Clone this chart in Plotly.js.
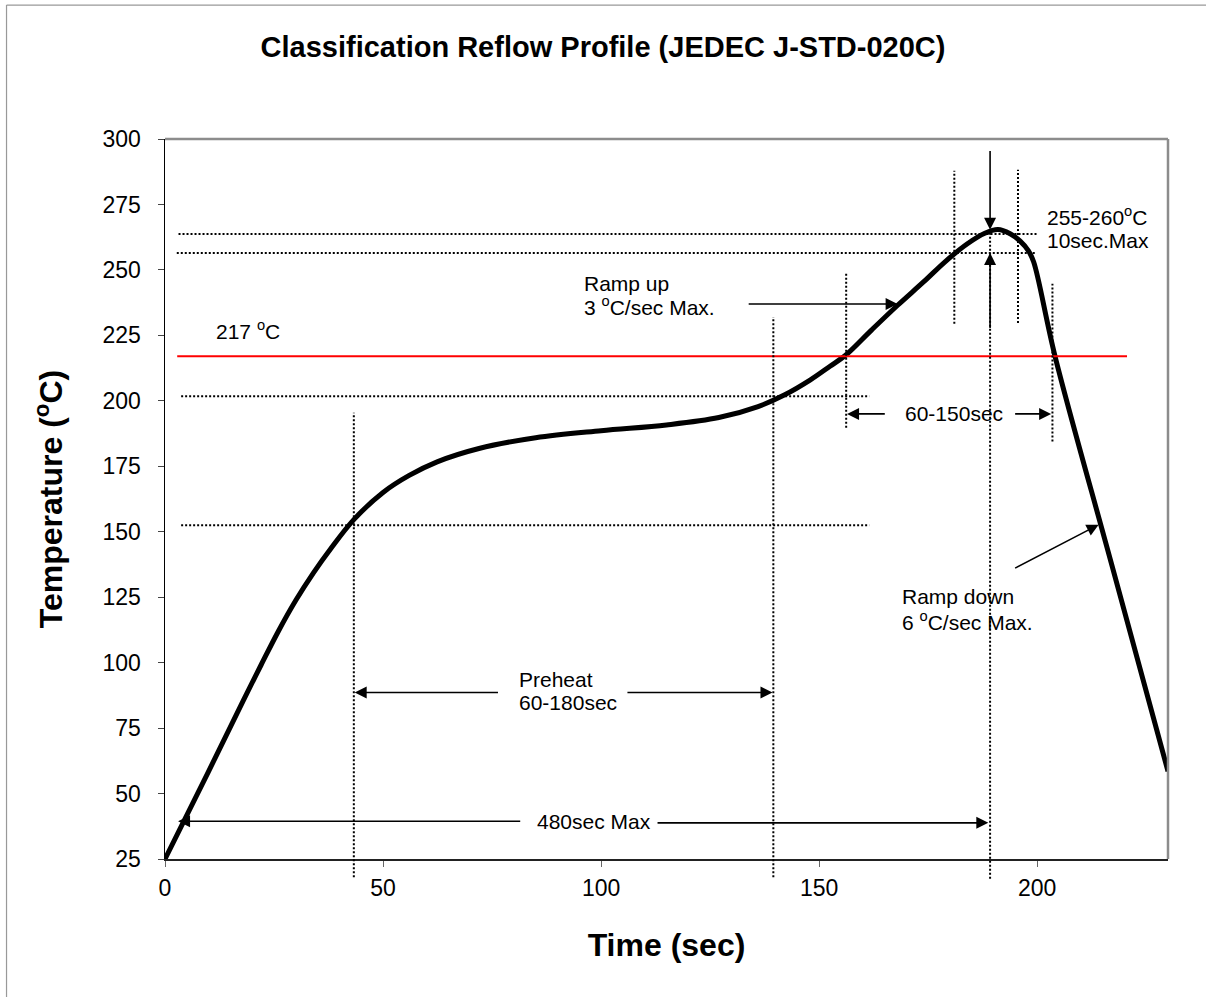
<!DOCTYPE html>
<html>
<head>
<meta charset="utf-8">
<script src="https://cdn.plot.ly/plotly-3.0.1.min.js"></script>
<style>html,body{margin:0;padding:0;background:#fff;}#chart{width:1206px;height:997px;}</style>
</head>
<body>
<div id="chart"></div>
<script>
// ---- data ----
const time = [0, 10, 18, 22, 26, 30, 34, 38, 43.4, 50, 56, 62.4, 72, 85, 100, 115, 127, 136, 142, 148, 152.5, 156.2, 162, 168, 174, 179, 184, 188, 191, 193.8, 196.1, 198, 199.2, 204.1, 217, 230];
const temp = [25, 58.5, 85.7, 99, 112, 123.8, 134.2, 143.5, 154.8, 165, 171.5, 176.7, 181.8, 185.9, 188.6, 190.8, 193.6, 197.8, 202.2, 208, 213.2, 217.6, 227, 236.5, 245.5, 253.3, 260, 264, 265.4, 263.8, 261, 257.3, 253, 217, 138, 58.5];
const xTickVals = [0, 50, 100, 150, 200];
const yTickVals = [25, 50, 75, 100, 125, 150, 175, 200, 225, 250, 275, 300];
const xRange = [0, 230];
const yRange = [25, 300];
const liquidusTemp = 217;
const liquidusSpan = [2.8, 220.6];
// horizontal dotted guides: temperature and time extent
const hGuideTemps = [263.7, 256.5, 201.7, 152.5];
const hGuideSpans = [[3.1, 200], [2.7, 199.5], [3.7, 161.5], [3.7, 161.5]];
// vertical dotted guides: time and temperature extent
const vGuideTimes = [43.3, 139.5, 156.2, 181, 189.2, 195.6, 203.5];
const vGuideSpans = [[18, 195.4], [18, 232], [189.7, 249.3], [229.4, 287.9], [17.5, 264], [229.7, 288.3], [184.5, 244.7]];
// arrows: [tailTime, tailTemp, tipTime, tipTemp]
const arrows = [
  [189.2, 296, 189.2, 265.3],
  [189.2, 227.2, 189.2, 256.5],
  [133.5, 237, 168.0, 237],
  [165.4, 195, 156.4, 195],
  [194.6, 195, 203.2, 195],
  [76.7, 88.6, 43.5, 88.6],
  [105.7, 88.6, 139.3, 88.6],
  [81.8, 39.4, 3.0, 39.4],
  [112.6, 38.8, 188.8, 38.8],
  [194.6, 135.8, 214.1, 152.7]
];
// labels: text, time, temp
const labels = [
  ['217 <sup>o</sup>C', 11.3, 227.2],
  ['Ramp up', 95.6, 245.0],
  ['3 <sup>o</sup>C/sec Max.', 95.6, 236.2],
  ['255-260<sup>o</sup>C', 201.9, 270.7],
  ['10sec.Max', 201.9, 261.2],
  ['60-150sec', 169.3, 195],
  ['Ramp down', 168.6, 125.3],
  ['6 <sup>o</sup>C/sec Max.', 168.6, 115.8],
  ['Preheat', 80.8, 93.5],
  ['60-180sec', 80.8, 84.7],
  ['480sec Max', 84.9, 39.4]
];

const FONT = 'Liberation Sans, Arial, Helvetica, sans-serif';
const yPaper = t => (t - yRange[0]) / (yRange[1] - yRange[0]);

const shapes = [];
// plot area top & right border (gray)
shapes.push({type:'line', xref:'paper', yref:'paper', x0:0, x1:1, y0:1, y1:1, line:{color:'#8c8c8c', width:2.5}});
shapes.push({type:'line', xref:'paper', yref:'paper', x0:1, x1:1, y0:0, y1:1, line:{color:'#8c8c8c', width:2.5}});
// outer frame (left & top)
shapes.push({type:'line', xref:'paper', yref:'paper', x0:-0.158, x1:1.1, y0:1.186, y1:1.186, line:{color:'#999', width:1.2}});
shapes.push({type:'line', xref:'paper', yref:'paper', x0:-0.158, x1:-0.158, y0:-0.3, y1:1.186, line:{color:'#999', width:1.2}});
// liquidus line
shapes.push({type:'line', xref:'x', yref:'y', x0:liquidusSpan[0], x1:liquidusSpan[1], y0:liquidusTemp, y1:liquidusTemp, line:{color:'#ff0000', width:2}});
hGuideTemps.forEach((t, i) => {
  shapes.push({type:'line', xref:'x', yref:'y', x0:hGuideSpans[i][0], x1:hGuideSpans[i][1], y0:t, y1:t, line:{color:'#000', width:2, dash:'2px,2px'}});
});
vGuideTimes.forEach((s, i) => {
  shapes.push({type:'line', xref:'x', yref:'paper', x0:s, x1:s, y0:yPaper(vGuideSpans[i][0]), y1:yPaper(vGuideSpans[i][1]), line:{color:'#000', width:2, dash:'2px,2px'}});
});

const annotations = [];
arrows.forEach(a => {
  annotations.push({x:a[2], y:a[3], ax:a[0], ay:a[1], xref:'x', yref:'y', axref:'x', ayref:'y', text:'', showarrow:true, arrowhead:2, arrowsize:1.5, arrowwidth:1.6, arrowcolor:'#000', standoff:0, startstandoff:0});
});
labels.forEach(l => {
  annotations.push({x:l[1], y:l[2], xref:'x', yref:'y', text:l[0], showarrow:false, xanchor:'left', yanchor:'middle', align:'left', font:{family:FONT, size:21, color:'#000'}});
});

const trace = {x: time, y: temp, type:'scatter', mode:'lines', line:{color:'#000', width:5, shape:'spline', smoothing:1}, hoverinfo:'skip'};

const layout = {
  width:1206, height:997,
  margin:{l:165, r:38, t:139, b:138},
  paper_bgcolor:'#fff', plot_bgcolor:'#fff',
  showlegend:false,
  title:{text:'Classification Reflow Profile (JEDEC J-STD-020C)', font:{family:FONT, size:29, color:'#000', weight:'bold'}, x:0.5, xref:'container', xanchor:'center', y:1-47/997, yref:'container', yanchor:'middle'},
  xaxis:{range:xRange, tickvals:xTickVals, ticks:'outside', ticklen:6, tickwidth:1, tickcolor:'#666', showgrid:false, zeroline:false, showline:true, linecolor:'#222', linewidth:2, tickfont:{family:FONT, size:23, color:'#000'}, ticklabelstandoff:1,
    title:{text:'Time (sec)', font:{family:FONT, size:32, color:'#000', weight:'bold'}, standoff:34}},
  yaxis:{range:yRange, tickvals:yTickVals, ticks:'outside', ticklen:6, tickwidth:1, tickcolor:'#444', showgrid:false, zeroline:false, showline:true, linecolor:'#000', linewidth:1.5, tickfont:{family:FONT, size:23, color:'#000'}, ticklabelstandoff:12,
    title:{text:'Temperature (<sup>o</sup>C)', font:{family:FONT, size:32, color:'#000', weight:'bold'}, standoff:30}},
  shapes:shapes,
  annotations:annotations
};

Plotly.newPlot('chart', [trace], layout, {staticPlot:true, displayModeBar:false});
</script>
</body>
</html>
